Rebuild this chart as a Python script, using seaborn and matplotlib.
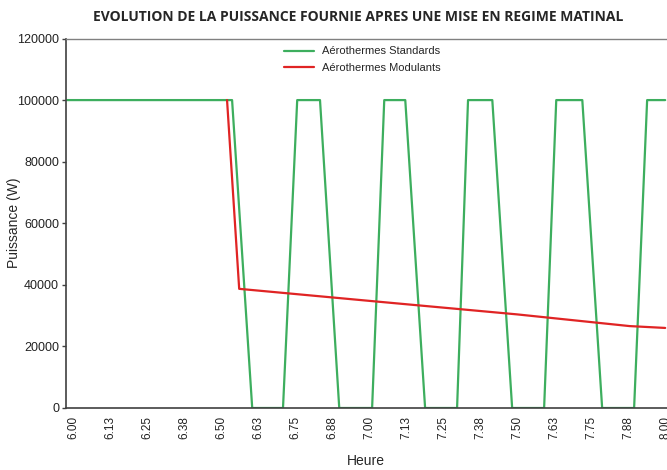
import matplotlib
matplotlib.use("Agg")
import matplotlib.pyplot as plt
import seaborn as sns
import pandas as pd

# Données (heure décimale, puissance en W)
heures_std = [5.98, 6.537, 6.605, 6.709, 6.757, 6.834, 6.899, 7.010, 7.051, 7.122,
              7.189, 7.297, 7.334, 7.416, 7.483, 7.591, 7.632, 7.720, 7.787, 7.895,
              7.939, 8.00]
puissance_std = [100000, 100000, 0, 0, 100000, 100000, 0, 0, 100000, 100000,
                 0, 0, 100000, 100000, 0, 0, 100000, 100000, 0, 0,
                 100000, 100000]

heures_mod = [6.520, 6.561, 7.00, 7.50, 7.88, 8.00]
puissance_mod = [100000, 38700, 34800, 30400, 26600, 26000]

series = ["Aérothermes Standards", "Aérothermes Modulants"]
couleurs = ["#3dae5e", "#e02424"]

ticks_x = [6.0 + k * 0.125 for k in range(17)]
labels_x = ["6.00", "6.13", "6.25", "6.38", "6.50", "6.63", "6.75", "6.88", "7.00",
            "7.13", "7.25", "7.38", "7.50", "7.63", "7.75", "7.88", "8.00"]
ticks_y = [0, 20000, 40000, 60000, 80000, 100000, 120000]

df = pd.concat([
    pd.DataFrame({"Heure": heures_std, "Puissance": puissance_std, "Serie": series[0]}),
    pd.DataFrame({"Heure": heures_mod, "Puissance": puissance_mod, "Serie": series[1]}),
], ignore_index=True)

sns.set_style("white")
plt.rcParams['font.family'] = ['Liberation Sans', 'DejaVu Sans']

fig = plt.figure(figsize=(6.67, 4.70), dpi=100)
ax = fig.add_axes([66 / 667, 62 / 470, 614 / 667, 369.5 / 470])

sns.lineplot(data=df, x="Heure", y="Puissance", hue="Serie", hue_order=series,
             palette=couleurs, sort=False, estimator=None, linewidth=1.6, ax=ax)

ax.set_xlim(5.976, 8.05)
ax.set_ylim(0, 120000)
ax.set_xticks(ticks_x)
ax.set_xticklabels(labels_x, rotation=90, fontsize=8.5, color="#222222")
ax.set_yticks(ticks_y)
ax.set_yticklabels([str(v) for v in ticks_y], fontsize=9, color="#222222")
ax.tick_params(axis="y", left=True, length=3, width=1, color="#404040", pad=2)
ax.tick_params(axis="x", bottom=False, length=0, pad=6)

for s in ["left", "bottom"]:
    ax.spines[s].set_color("#404040")
    ax.spines[s].set_linewidth(1.2)
ax.spines["top"].set_color("#808080")
ax.spines["top"].set_linewidth(1.0)
ax.spines["right"].set_visible(False)

ax.set_ylabel("Puissance (W)", fontsize=10, labelpad=-3)
ax.set_xlabel("Heure", fontsize=10)
ax.xaxis.set_label_coords(0.489, -0.125)

ax.legend(frameon=False, fontsize=8, loc="upper left",
          bbox_to_anchor=(280 / 667, 1 - 42 / 470), bbox_transform=fig.transFigure,
          borderaxespad=0, handlelength=2.7, handletextpad=0.7, labelspacing=0.55)

fig.text(358 / 667, 1 - 17 / 470,
         "EVOLUTION DE LA PUISSANCE FOURNIE APRES UNE MISE EN REGIME MATINAL",
         ha="center", va="center", fontsize=10, fontweight="bold",
         family=["Open Sans", "DejaVu Sans"])

fig.savefig("out.png", dpi=100)
plt.close(fig)
